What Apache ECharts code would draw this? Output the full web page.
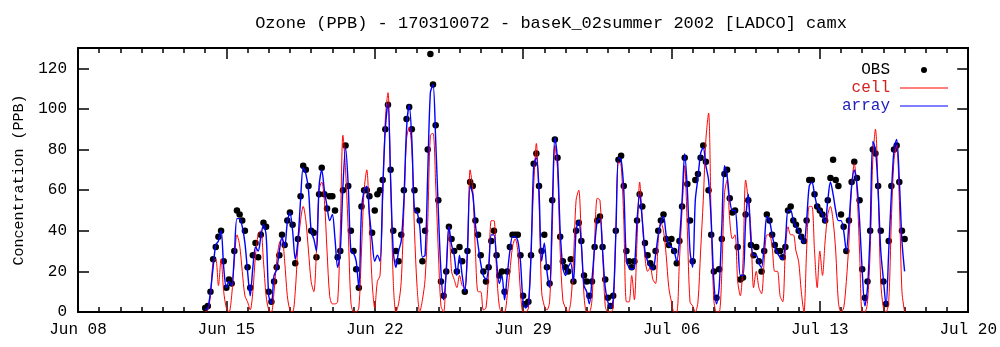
<!DOCTYPE html>
<html>
<head>
<meta charset="utf-8">
<script src="https://cdn.jsdelivr.net/npm/echarts/dist/echarts.min.js"></script>
<style>
html,body{margin:0;padding:0;background:#fff;}
#chart{width:1000px;height:347px;}
</style>
</head>
<body>
<div id="chart"></div>
<script>
// Time grid: first sample Jun 14 2002 00:00 (day 6 after Jun 08), one sample every 3 hours
const startDay = 6;
const stepHours = 3;
const xTickLabels = ['Jun 08', 'Jun 15', 'Jun 22', 'Jun 29', 'Jul 06', 'Jul 13', 'Jul 20'];
const yTickLabels = ['0', '20', '40', '60', '80', '100', '120'];
const seriesNames = ['OBS', 'cell', 'array'];

// observed ozone (ppb), 8 values per day
const obsValues = [
  2, 3, 10, 26, 32, 37, 40, 25,      // Jun 14
  12, 16, 14, 30, 50, 48, 45, 40,    // Jun 15
  22, 12, 28, 34, 27, 38, 44, 42,    // Jun 16
  10, 5, 15, 22, 28, 38, 33, 45,     // Jun 17
  49, 43, 24, 36, 57, 72, 70, 62,    // Jun 18
  40, 39, 27, 58, 71, 58, 51, 57,    // Jun 19
  57, 50, 27, 30, 60, 82, 62, 40,    // Jun 20
  30, 21, 12, 52, 60, 60, 57, 39,    // Jun 21
  50, 58, 60, 65, 90, 102, 70, 40,   // Jun 22
  30, 25, 38, 60, 95, 101, 90, 60,   // Jun 23
  50, 45, 25, 40, 80, 127, 112, 92,  // Jun 24
  55, 15, 8, 20, 42, 36, 30, 20,     // Jun 25
  32, 25, 10, 30, 64, 62, 45, 38,    // Jun 26
  28, 20, 15, 22, 35, 40, 28, 18,    // Jun 27
  20, 10, 20, 32, 38, 38, 38, 28,    // Jun 28
  8, 4, 5, 28, 73, 78, 62, 30,       // Jun 29
  38, 22, 14, 55, 85, 76, 37, 25,    // Jun 30
  22, 20, 26, 15, 40, 44, 35, 18,    // Jul 01
  15, 8, 15, 32, 45, 47, 32, 16,     // Jul 02
  7, 3, 8, 40, 75, 77, 62, 30,       // Jul 03
  25, 22, 25, 45, 58, 52, 34, 28,    // Jul 04
  24, 22, 30, 40, 45, 48, 36, 33,    // Jul 05
  36, 30, 24, 35, 52, 76, 63, 45,    // Jul 06
  25, 65, 68, 76, 82, 74, 60, 38,    // Jul 07
  20, 7, 21, 36, 68, 70, 56, 49,     // Jul 08
  50, 32, 16, 17, 48, 55, 33, 28,    // Jul 09
  32, 25, 20, 30, 48, 45, 38, 33,    // Jul 10
  30, 30, 27, 32, 50, 52, 45, 43,    // Jul 11
  40, 37, 35, 45, 65, 65, 58, 52,    // Jul 12
  50, 48, 45, 55, 66, 75, 65, 62,    // Jul 13
  48, 42, 30, 45, 64, 74, 66, 55,    // Jul 14
  21, 7, 15, 40, 80, 78, 62, 40,     // Jul 15
  15, 4, 35, 62, 80, 82, 64, 40,     // Jul 16
  36                                 // Jul 17
];

// model "cell" ozone (ppb)
const cellValues = [
  0, 1, 8, 25, 26, 13, 26, 10,       // Jun 14
  2, 0, 8, 25, 38, 33, 20, 8,        // Jun 15
  5, 1, 10, 28, 38, 40, 25, 8,       // Jun 16
  1, 0, 10, 25, 34, 36, 25, 8,       // Jun 17
  1, 0, 10, 32, 45, 52, 45, 30,      // Jun 18
  15, 10, 30, 60, 64, 55, 30, 8,     // Jun 19
  4, 4, 5, 40, 87, 70, 40, 5,        // Jun 20
  0, 0, 2, 30, 60, 70, 45, 15,       // Jun 21
  2, 15, 18, 55, 95, 108, 65, 15,    // Jun 22
  0, 4, 15, 50, 85, 91, 80, 40,      // Jun 23
  12, 0, 6, 16, 44, 87, 88, 63,      // Jun 24
  30, 3, 0, 22, 42, 20, 16, 12,      // Jun 25
  18, 13, 12, 30, 70, 60, 30, 10,    // Jun 26
  10, 1, 2, 20, 45, 45, 20, 3,       // Jun 27
  0, 0, 8, 20, 32, 36, 30, 10,       // Jun 28
  0, 0, 2, 30, 62, 83, 55, 10,       // Jun 29
  3, 1, 5, 40, 82, 70, 30, 6,        // Jun 30
  2, 0, 5, 25, 55, 60, 35, 8,        // Jul 01
  0, 0, 6, 35, 56, 55, 30, 3,        // Jul 02
  0, 0, 2, 40, 74, 72, 45, 5,        // Jul 03
  5, 18, 6, 35, 64, 45, 27, 20,      // Jul 04
  22, 16, 14, 35, 44, 40, 28, 12,    // Jul 05
  5, 0, 0, 25, 50, 72, 40, 5,        // Jul 06
  3, 0, 5, 30, 55, 85, 98, 45,       // Jul 07
  6, 0, 0, 19, 58, 65, 45, 36,       // Jul 08
  38, 15, 8, 25, 65, 55, 40, 12,     // Jul 09
  20, 12, 9, 25, 38, 38, 32, 20,     // Jul 10
  20, 8, 5, 30, 42, 38, 38, 30,      // Jul 11
  25, 10, 0, 30, 52, 52, 30, 12,     // Jul 12
  30, 18, 35, 48, 52, 45, 30, 5,     // Jul 13
  0, 2, 15, 35, 62, 73, 60, 30,      // Jul 14
  0, 0, 5, 30, 75, 90, 60, 15,       // Jul 15
  2, 0, 5, 45, 75, 82, 55, 10,       // Jul 16
  0                                  // Jul 17
];

// model "array" ozone (ppb)
const arrayValues = [
  1, 2, 10, 22, 33, 35, 40, 22,      // Jun 14
  12, 15, 13, 28, 46, 46, 42, 34,    // Jun 15
  20, 8, 22, 32, 30, 37, 43, 38,     // Jun 16
  8, 4, 18, 21, 30, 37, 32, 44,      // Jun 17
  49, 40, 26, 35, 55, 71, 68, 60,    // Jun 18
  40, 36, 30, 62, 70, 60, 52, 45,    // Jun 19
  48, 36, 22, 30, 62, 81, 62, 30,    // Jun 20
  29, 25, 12, 50, 60, 62, 48, 35,    // Jun 21
  25, 28, 25, 60, 90, 103, 65, 30,   // Jun 22
  22, 30, 35, 55, 90, 102, 85, 50,   // Jun 23
  49, 42, 27, 28, 68, 108, 112, 85,  // Jun 24
  50, 20, 6, 20, 42, 33, 28, 18,     // Jun 25
  28, 18, 10, 30, 62, 58, 43, 33,    // Jun 26
  24, 18, 16, 22, 38, 38, 25, 14,    // Jun 27
  18, 6, 18, 30, 37, 37, 35, 25,     // Jun 28
  5, 2, 4, 28, 72, 76, 60, 25,       // Jun 29
  34, 20, 12, 50, 86, 75, 40, 22,    // Jun 30
  18, 22, 24, 15, 40, 45, 33, 13,    // Jul 01
  10, 4, 16, 32, 45, 46, 30, 12,     // Jul 02
  5, 2, 6, 38, 76, 75, 60, 25,       // Jul 03
  22, 21, 22, 45, 58, 45, 30, 25,    // Jul 04
  22, 21, 28, 38, 44, 47, 38, 33,    // Jul 05
  32, 30, 25, 35, 55, 78, 60, 30,    // Jul 06
  22, 55, 66, 78, 81, 72, 65, 45,    // Jul 07
  15, 4, 12, 42, 72, 67, 55, 50,     // Jul 08
  50, 36, 18, 18, 45, 58, 35, 28,    // Jul 09
  28, 24, 22, 33, 47, 45, 38, 32,    // Jul 10
  29, 27, 26, 35, 50, 50, 45, 42,    // Jul 11
  40, 36, 34, 45, 62, 64, 58, 52,    // Jul 12
  50, 48, 44, 55, 64, 58, 50, 45,    // Jul 13
  45, 40, 30, 44, 62, 70, 63, 45,    // Jul 14
  20, 3, 12, 40, 84, 80, 60, 30,     // Jul 15
  16, 3, 30, 58, 80, 85, 65, 35,     // Jul 16
  20                                 // Jul 17
];

const FONT = '"Liberation Mono", "DejaVu Sans Mono", monospace';
const LINE_ICON = 'path://M0,0H48V1H0Z';

function toPoints(vals) {
  return vals.map((v, i) => [startDay + i * stepHours / 24, v]);
}

const xTickCommon = {
  type: 'value', min: 0, max: 42, interval: 7,
  axisLine: { show: true, onZero: false, lineStyle: { color: '#000', width: 2 } },
  axisTick: { show: true, inside: true, length: 11, lineStyle: { color: '#000', width: 1.5 } },
  minorTick: { show: true, splitNumber: 7, length: 5, lineStyle: { color: '#000', width: 1.5 } },
  splitLine: { show: false },
  minorSplitLine: { show: false }
};
const yTickCommon = {
  type: 'value', min: 0, max: 130, interval: 20,
  axisLine: { show: true, onZero: false, lineStyle: { color: '#000', width: 2 } },
  axisTick: { show: true, inside: true, length: 11, lineStyle: { color: '#000', width: 1.5 } },
  splitLine: { show: false }
};

const chart = echarts.init(document.getElementById('chart'), null, { renderer: 'canvas' });
chart.setOption({
  animation: false,
  backgroundColor: '#fff',
  title: {
    text: 'Ozone (PPB) - 170310072 - baseK_02summer 2002 [LADCO] camx',
    left: 546, top: 10, textAlign: 'center',
    textStyle: { fontFamily: FONT, fontSize: 17, fontWeight: 'normal', color: '#000' }
  },
  legend: {
    orient: 'vertical', right: 47, top: 57, align: 'right',
    itemWidth: 48, itemHeight: 6, itemGap: 2,
    textStyle: { fontFamily: FONT, fontSize: 16, padding: [0, 5, 0, 0] },
    data: [
      { name: seriesNames[0], icon: 'circle', textStyle: { color: '#000' } },
      { name: seriesNames[1], icon: LINE_ICON, textStyle: { color: '#d42020' } },
      { name: seriesNames[2], icon: LINE_ICON, textStyle: { color: '#2020c0' } }
    ]
  },
  grid: { left: 78, right: 31, top: 48, bottom: 35, containLabel: false },
  xAxis: [
    Object.assign({}, xTickCommon, {
      position: 'bottom',
      axisLabel: {
        show: true, margin: 10, color: '#000', fontFamily: FONT, fontSize: 16,
        formatter: v => xTickLabels[Math.round(v / 7)] || ''
      }
    }),
    Object.assign({}, xTickCommon, { position: 'top', axisLabel: { show: false } })
  ],
  yAxis: [
    Object.assign({}, yTickCommon, {
      position: 'left',
      name: 'Concentration (PPB)', nameLocation: 'middle', nameGap: 51,
      nameTextStyle: { fontFamily: FONT, fontSize: 15, color: '#000' },
      axisLabel: {
        show: true, margin: 11, color: '#000', fontFamily: FONT, fontSize: 16,
        showMaxLabel: false,
        formatter: v => (v % 20 === 0 ? (yTickLabels[v / 20] || '') : '')
      }
    }),
    Object.assign({}, yTickCommon, { position: 'right', axisLabel: { show: false } })
  ],
  series: [
    {
      name: seriesNames[0], type: 'scatter', xAxisIndex: 0, yAxisIndex: 0, z: 1,
      data: toPoints(obsValues), symbol: 'circle', symbolSize: 6.5,
      itemStyle: { color: '#000', opacity: 1 }
    },
    {
      name: seriesNames[1], type: 'line', xAxisIndex: 0, yAxisIndex: 0, z: 2,
      data: toPoints(cellValues), symbol: 'none', showSymbol: false, smooth: 0.3,
      lineStyle: { color: '#ff0000', width: 1 }, itemStyle: { color: '#ff0000' }
    },
    {
      name: seriesNames[2], type: 'line', xAxisIndex: 0, yAxisIndex: 0, z: 3,
      data: toPoints(arrayValues), symbol: 'none', showSymbol: false, smooth: 0.3,
      lineStyle: { color: '#0000ff', width: 1.4 }, itemStyle: { color: '#0000ff' }
    }
  ]
});
</script>
</body>
</html>
